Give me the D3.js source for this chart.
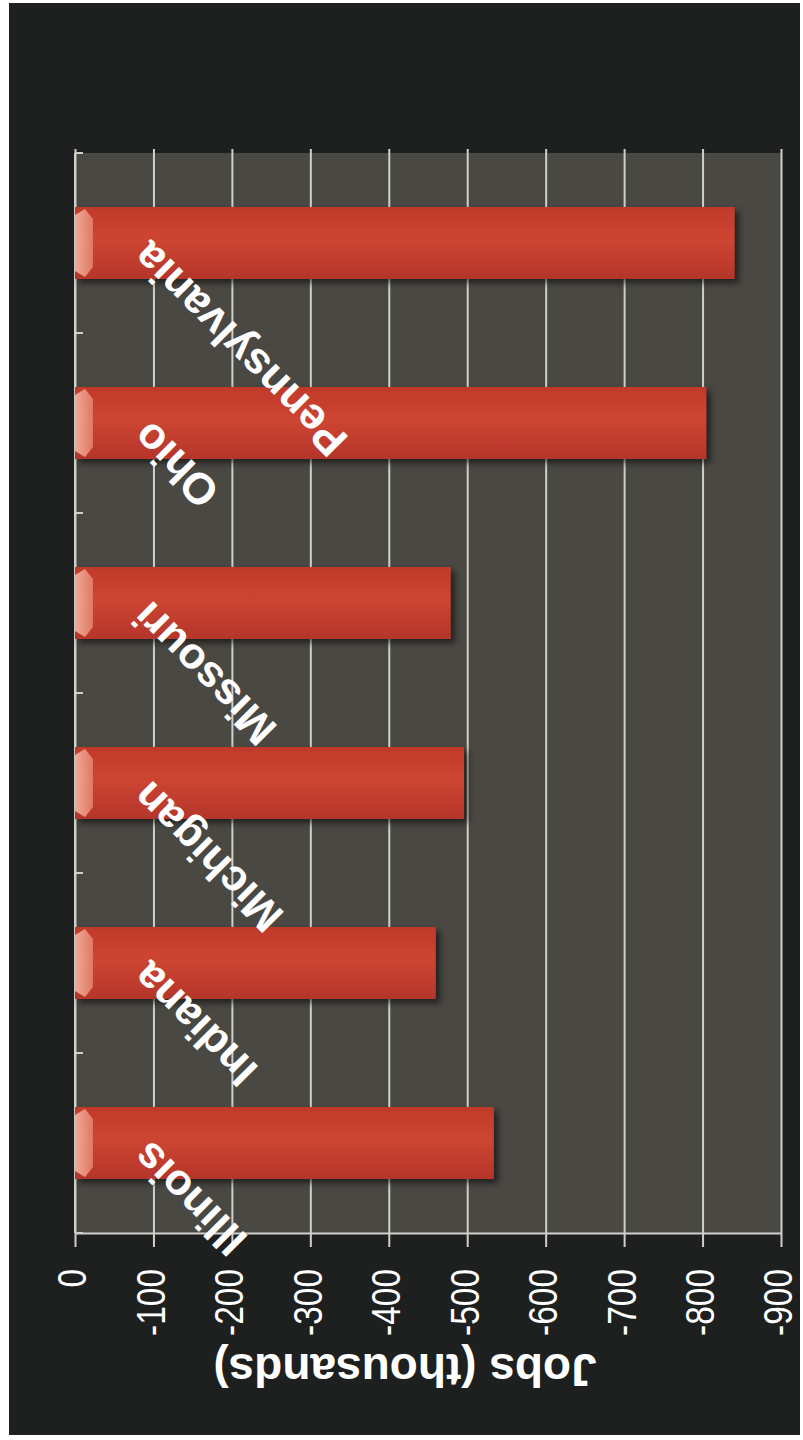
<!DOCTYPE html>
<html>
<head>
<meta charset="utf-8">
<script src="https://cdn.jsdelivr.net/npm/d3@7"></script>
<style>
  html, body { margin: 0; padding: 0; background: #ffffff; }
  svg { display: block; }
</style>
</head>
<body>
<svg id="chart" width="803" height="1440"></svg>
<script>
// ---- data ----
const states = ["Illinois", "Indiana", "Michigan", "Missouri", "Ohio", "Pennsylvania"];
const jobChange = [-534, -460, -496, -479, -805, -841];
const valueTicks = [0, -100, -200, -300, -400, -500, -600, -700, -800, -900];
const axisTitle = "Jobs (thousands)";

const svg = d3.select("#chart");
const plot = { left: 75, right: 781, top: 153, bottom: 1233 };
const FONT = "'Liberation Sans', Arial, sans-serif";

// defs
const defs = svg.append("defs");
const barGrad = defs.append("linearGradient").attr("id", "barGrad")
  .attr("x1", 0).attr("y1", 0).attr("x2", 0).attr("y2", 1);
barGrad.append("stop").attr("offset", "0%").attr("stop-color", "#c03a2a");
barGrad.append("stop").attr("offset", "45%").attr("stop-color", "#cd4532");
barGrad.append("stop").attr("offset", "100%").attr("stop-color", "#b5352a");
const capGrad = defs.append("linearGradient").attr("id", "capGrad")
  .attr("x1", 0).attr("y1", 0).attr("x2", 1).attr("y2", 0);
capGrad.append("stop").attr("offset", "0%").attr("stop-color", "#f3b0a0");
capGrad.append("stop").attr("offset", "100%").attr("stop-color", "#e27a66");
const blur = defs.append("filter").attr("id", "shadow")
  .attr("x", "-20%").attr("y", "-20%").attr("width", "140%").attr("height", "140%");
blur.append("feGaussianBlur").attr("stdDeviation", 3);

// outer dark frame
svg.append("rect").attr("x", 9).attr("y", 3).attr("width", 791).attr("height", 1432)
  .attr("fill", "#1e201f");

// plot background
svg.append("rect")
  .attr("x", plot.left).attr("y", plot.top)
  .attr("width", plot.right - plot.left).attr("height", plot.bottom - plot.top)
  .attr("fill", "#4a4843");

// scales
const x = d3.scaleLinear().domain([0, -900]).range([plot.left, plot.right]);
const y = d3.scaleBand().domain(states.slice().reverse())
  .range([plot.top, plot.bottom]).paddingInner(0.6).paddingOuter(0.3);

// gridlines
svg.append("g")
  .attr("transform", `translate(0,${plot.top - 4})`)
  .call(d3.axisBottom(x).tickValues(valueTicks).tickSize(plot.bottom - plot.top + 4).tickFormat(""))
  .call(g => g.select(".domain").remove())
  .call(g => g.selectAll("line").attr("stroke", "#cfcfcb").attr("stroke-width", 2));

// value axis (bottom)
const xAxis = svg.append("g")
  .attr("transform", `translate(0,${plot.bottom})`)
  .call(d3.axisBottom(x).tickValues(valueTicks).tickSize(14).tickSizeOuter(0)
    .tickFormat(d => String(d)));
xAxis.select(".domain").attr("stroke", "#cfcfcb").attr("stroke-width", 2);
xAxis.selectAll(".tick line").attr("stroke", "#cfcfcb").attr("stroke-width", 2);
xAxis.selectAll(".tick text")
  .attr("fill", "#ffffff")
  .attr("font-family", FONT)
  .attr("font-size", 38)
  .attr("text-anchor", "end")
  .attr("transform", "translate(-1,36) rotate(-90) scale(0.88,1.05)")
  .attr("x", 0).attr("y", 0).attr("dy", "0.3em");

// category axis (left)
const yAxis = svg.append("g").attr("transform", `translate(${plot.left},0)`);
yAxis.append("line")
  .attr("x1", 0).attr("x2", 0).attr("y1", plot.top).attr("y2", plot.bottom)
  .attr("stroke", "#cfcfcb").attr("stroke-width", 2);
const boundaries = d3.range(states.length + 1).map(i => plot.top + i * y.step());
yAxis.selectAll("line.tk").data(boundaries).join("line").attr("class", "tk")
  .attr("x1", 0).attr("x2", 8).attr("y1", d => d).attr("y2", d => d)
  .attr("stroke", "#cfcfcb").attr("stroke-width", 2);

// bars
const bars = svg.append("g");
const rows = states.map((s, i) => ({ state: s, value: jobChange[i] }));
bars.selectAll("rect.shadow").data(rows).join("rect").attr("class", "shadow")
  .attr("x", x(0) + 4).attr("y", d => y(d.state) + 4)
  .attr("width", d => x(d.value) - x(0)).attr("height", y.bandwidth())
  .attr("fill", "#000").attr("opacity", 0.55).attr("filter", "url(#shadow)");
bars.selectAll("rect.bar").data(rows).join("rect").attr("class", "bar")
  .attr("x", x(0)).attr("y", d => y(d.state))
  .attr("width", d => x(d.value) - x(0)).attr("height", y.bandwidth())
  .attr("fill", "url(#barGrad)");
bars.selectAll("path.cap").data(rows).join("path").attr("class", "cap")
  .attr("d", d => {
    const y0 = y(d.state), y1 = y0 + y.bandwidth(), x0 = x(0);
    return `M${x0},${y0 + 8} L${x0 + 10},${y0 + 2} L${x0 + 18},${y0 + 12} L${x0 + 18},${y1 - 12} L${x0 + 10},${y1 - 2} L${x0},${y1 - 8} Z`;
  })
  .attr("fill", "url(#capGrad)").attr("opacity", 0.95);

// category labels (rotated, inside bars)
svg.append("g").selectAll("text").data(rows).join("text")
  .attr("transform", d => `translate(${plot.left + 76},${y(d.state) + y.bandwidth() / 2 - 4}) rotate(-135)`)
  .attr("text-anchor", "end")
  .attr("fill", "#ffffff")
  .attr("font-family", FONT)
  .attr("font-weight", "bold")
  .attr("font-size", 44)
  .text(d => d.state);

// axis title (upside down)
svg.append("text")
  .attr("transform", `translate(${(plot.left + plot.right) / 2 - 23},1354) rotate(180)`)
  .attr("text-anchor", "middle")
  .attr("fill", "#ffffff")
  .attr("font-family", FONT)
  .attr("font-weight", "bold")
  .attr("font-size", 46)
  .text(axisTitle);
</script>
</body>
</html>
